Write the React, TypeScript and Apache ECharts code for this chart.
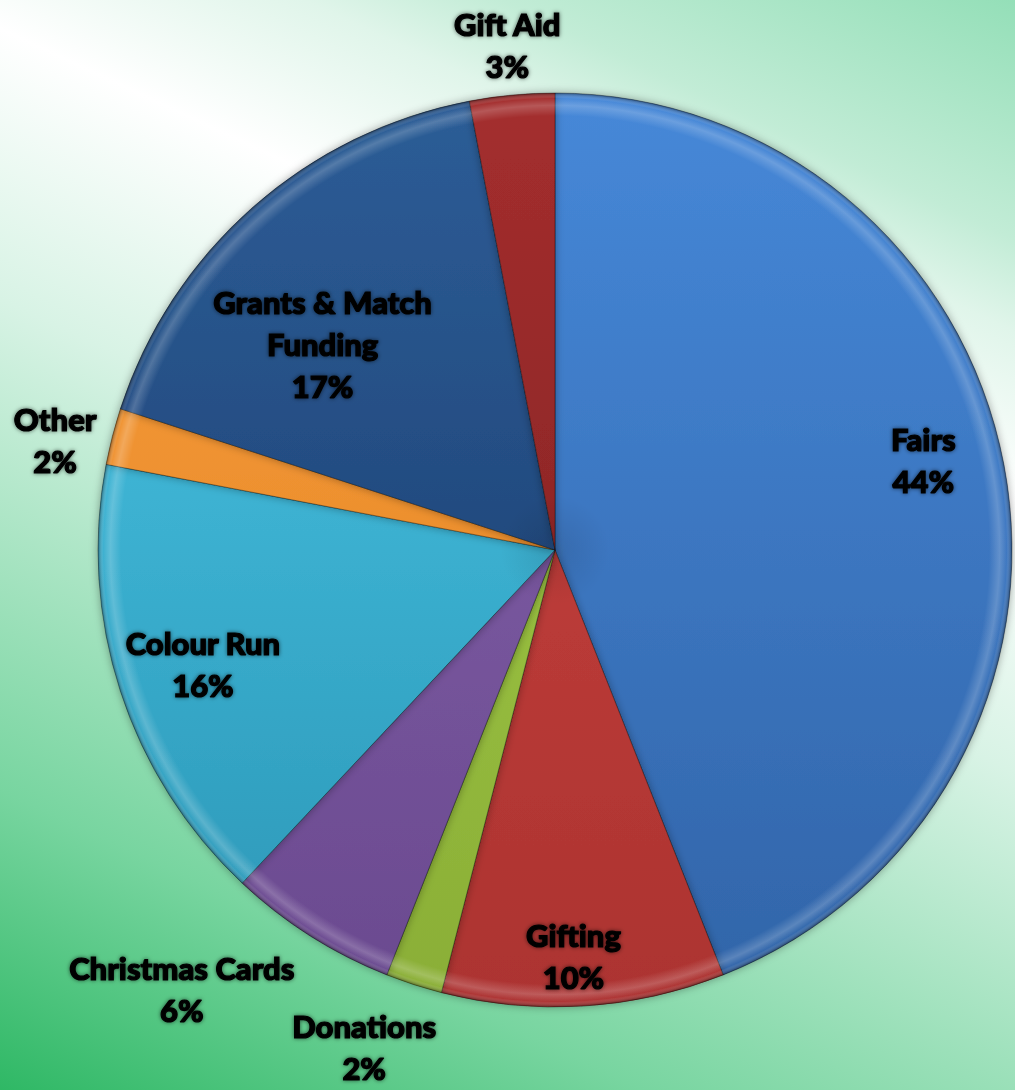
import React, { useEffect, useRef } from "react";
import * as echarts from "echarts";

// ---- data ----
const categories = [
  "Fairs",
  "Gifting",
  "Donations",
  "Christmas Cards",
  "Colour Run",
  "Other",
  "Grants & Match Funding",
  "Gift Aid",
];
const shares = [44, 10, 2, 6, 16, 2, 17, 3];

// ---- styles ----
const topColors = ["#4688d8", "#cc4441", "#a6d04a", "#8662ad", "#4ac8e8", "#fa9f3c", "#2d5d97", "#a42e2e"];
const bottomColors = ["#3164a8", "#ac3330", "#8aae36", "#6a4a8f", "#2b96b6", "#de7f1f", "#173766", "#7a2020"];
const labelRadius = [0.83, 0.89, 1.165, 1.26, 0.81, 1.12, 0.68, 1.11];
const labelAngleShift = [-3, 1, 3, 8, 0, -2, -7, 0];

const CX = 555;
const CY = 550;
const R = 457;
const TOP = CY - R;
const BOTTOM = CY + R;

export default function App() {
  const ref = useRef<HTMLDivElement>(null);

  useEffect(() => {
    document.body.style.margin = "0";
    const chart = echarts.init(ref.current!, null, { renderer: "svg" });
    const total = shares.reduce((a, b) => a + b, 0);
    const mids: number[] = [];
    let acc = 0;
    shares.forEach((v) => {
      mids.push(((acc + v / 2) / total) * 360);
      acc += v;
    });
    const labelPos = mids.map((a, i) => {
      const ang = ((a + labelAngleShift[i]) * Math.PI) / 180;
      const r = R * labelRadius[i];
      return [CX + r * Math.sin(ang), CY - r * Math.cos(ang)];
    });

    const baseData = categories.map((name, i) => ({
      name,
      value: shares[i],
      itemStyle: {
        color: new echarts.graphic.LinearGradient(
          0,
          TOP,
          0,
          BOTTOM,
          [
            { offset: 0, color: topColors[i] },
            { offset: 1, color: bottomColors[i] },
          ],
          true
        ),
      },
    }));

    const bevel = new echarts.graphic.RadialGradient(
      CX,
      CY,
      R,
      [
        { offset: 0, color: "rgba(0,0,0,0.10)" },
        { offset: 0.12, color: "rgba(0,0,0,0)" },
        { offset: 0.95, color: "rgba(255,255,255,0)" },
        { offset: 0.973, color: "rgba(255,255,255,0.2)" },
        { offset: 0.988, color: "rgba(255,255,255,0.02)" },
        { offset: 1, color: "rgba(0,0,0,0.4)" },
      ],
      true
    );

    chart.setOption({
      animation: false,
      series: [
        {
          type: "pie",
          center: [CX, CY],
          radius: R,
          startAngle: 90,
          clockwise: true,
          emphasis: { disabled: true },
          itemStyle: {
            borderColor: "rgba(0,0,0,0.35)",
            borderWidth: 1,
            shadowBlur: 8,
            shadowColor: "rgba(0,0,0,0.35)",
          },
          label: {
            show: true,
            position: "inside",
            formatter: (p: any) =>
              p.name.replace("& Match ", "& Match\n") + "\n" + Math.round(p.percent) + "%",
            color: "#000",
            fontFamily: "Lato",
            fontWeight: 900,
            fontSize: 31,
            lineHeight: 42,
            align: "center",
            verticalAlign: "middle",
            textBorderColor: "#000",
            textBorderWidth: 1.2,
            textShadowColor: "rgba(0,0,0,0.6)",
            textShadowBlur: 4,
          },
          labelLine: { show: false },
          labelLayout: (params: any) => ({
            x: labelPos[params.dataIndex][0],
            y: labelPos[params.dataIndex][1],
          }),
          data: baseData,
        },
        {
          type: "pie",
          center: [CX, CY],
          radius: R,
          startAngle: 90,
          clockwise: true,
          silent: true,
          emphasis: { disabled: true },
          label: { show: false },
          labelLine: { show: false },
          itemStyle: { color: bevel, borderWidth: 0 },
          data: categories.map((name, i) => ({ name, value: shares[i] })),
        },
      ],
    });
    return () => chart.dispose();
  }, []);

  return (
    <div
      style={{
        position: "fixed",
        left: 0,
        top: 0,
        width: 1015,
        height: 1090,
        background:
          "linear-gradient(205deg, #94dfb8 0%, #c2ecd6 15.3%, #e0f5ea 21.2%, #ffffff 32.1%, #d8f3e5 49.4%, #78d5a0 80.8%, #2fb865 100%)",
      }}
    >
      <div ref={ref} style={{ width: 1015, height: 1090 }} />
    </div>
  );
}
